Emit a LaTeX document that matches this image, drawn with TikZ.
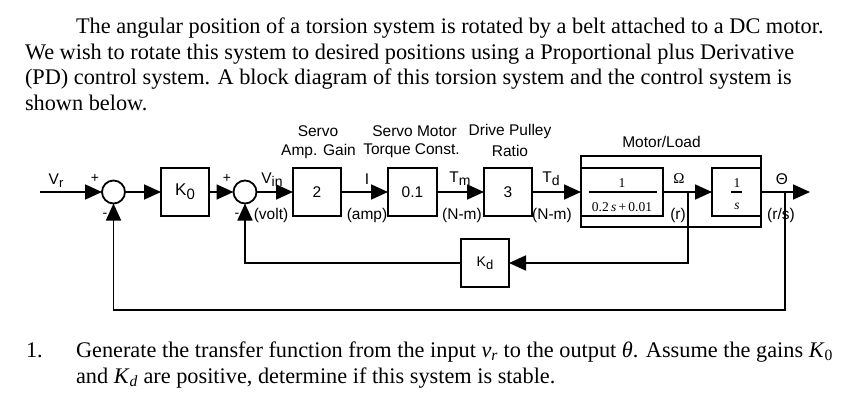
\documentclass[tikz,border=0pt]{standalone}
\usepackage{fontspec}
\setmainfont{Liberation Serif}
\setsansfont{Liberation Sans}
\usetikzlibrary{arrows.meta}
\begin{document}
\begin{tikzpicture}[x=1pt,y=-1pt,
  every node/.style={inner sep=0pt,outer sep=0pt},
  wire/.style={line width=1.8pt},
  arr/.style={wire,-{Triangle[length=17pt,width=15pt]}},
  blk/.style={draw,line width=1.8pt,minimum width=48pt,minimum height=48pt},
  sumj/.style={draw,circle,line width=1.8pt,minimum size=23pt},
  lab/.style={font=\fontsize{15.5}{18}\sffamily},
  sgn/.style={font=\fontsize{14}{16}\sffamily},
  frc/.style={font=\fontsize{13.5}{15}\rmfamily},
  para/.style={font=\fontsize{22.3}{26}\rmfamily,anchor=base west},
]
\useasboundingbox (0,0) rectangle (860,407);
\fill[white] (0,0) rectangle (860,407);

% paragraph
\node[para] (p1) at (76,33) {The angular position of a torsion system is rotated by a belt attached to a DC motor.};
\node[para] (p2) at (25,59) {We wish to rotate this system to desired positions using a Proportional plus Derivative};
\node[para] (p3) at (25,84.5) {(PD) control system. A block diagram of this torsion system and the control system is};
\node[para] (p4) at (25,110) {shown below.};

% blocks
\node[sumj] (s1) at (113.5,192) {};
\node[blk] (k0) at (185,192) {\fontsize{17}{18}\sffamily K\raisebox{-4pt}{\fontsize{15}{16}\selectfont 0}};
\node[sumj] (s2) at (245,192) {};
\node[blk,lab] (b2) at (317,192) {2};
\node[blk,lab,minimum width=49pt] (b01) at (412.5,192) {0.1};
\node[blk,lab] (b3) at (508,192) {3};
\node[draw,line width=1.8pt,minimum width=180pt,minimum height=71pt] (ml) at (671,191.5) {};
\node[blk,minimum width=82pt] (fr) at (622,192) {};
\node[blk,minimum width=49pt] (ig) at (736.5,192) {};
\node[blk] (kd) at (485,263) {\fontsize{14}{16}\sffamily K\raisebox{-3.5pt}{\fontsize{13}{14}\selectfont d}};

% fraction contents
\node[frc] (fn) at (622,183) {1};
\draw[line width=1.6pt] (589,192) coordinate (fa) -- (657,192) coordinate (fb);
\node[frc] (fd) at (622,207) {0.2\,\textit{s}\,+\,0.01};
\node[frc] (in) at (737,183) {1};
\draw[line width=1.4pt] (731,192) coordinate (ia) -- (742,192) coordinate (ib);
\node[frc] (id) at (737,206) {\textit{s}};

% coordinates
\coordinate (vr) at (40,192);
\coordinate (p1c) at (688,192);
\coordinate (p1d) at (688,263);
\coordinate (p2c) at (785,192);
\coordinate (p2d) at (785,310);
\coordinate (out) at (810,192);

% forward path
\draw[arr] (vr) -- (s1.west);
\draw[arr] (s1.east) -- (k0.west);
\draw[arr] (k0.east) -- (s2.west);
\draw[arr] (s2.east) -- (b2.west);
\draw[arr] (b2.east) -- (b01.west);
\draw[arr] (b01.east) -- (b3.west);
\draw[arr] (b3.east) -- (fr.west);
\draw[arr] (fr.east) -- (ig.west);
\draw[arr] (ig.east) -- (out);

% feedback
\draw[arr] (p1c) -- (p1d) -- (kd.east);
\draw[arr] (kd.west) -| (s2.south);
\draw[arr] (p2c) -- (p2d) -| (s1.south);

% labels
\node[lab] (lvr) at (56,181) {V\raisebox{-3pt}{\fontsize{13}{14}\selectfont r}};
\node[sgn] (pl1) at (95,178) {+};
\node[sgn] (mi1) at (105,215) {-};
\node[sgn] (pl2) at (227,178) {+};
\node[sgn] (mi2) at (237,215) {-};
\node[lab] (lvin) at (272,180) {V\raisebox{-3pt}{\fontsize{14}{14}\selectfont in}};
\node[lab] (lvolt) at (271,215) {(volt)};
\node[lab] (li) at (367,179) {I};
\node[lab] (lamp) at (367,215) {(amp)};
\node[lab] (ltm) at (460,179) {T\raisebox{-3pt}{\fontsize{14}{14}\selectfont m}};
\node[lab] (lnm1) at (462,215) {(N-m)};
\node[lab] (ltd) at (551,179) {T\raisebox{-3pt}{\fontsize{14}{14}\selectfont d}};
\node[lab] (lnm2) at (552,215) {(N-m)};
\node[font=\fontsize{15}{16}\rmfamily] (lom) at (679,179) {Ω};
\node[lab] (lr) at (678,215) {(r)};
\node[lab] (lth) at (782,179) {Θ};
\node[lab] (lrs) at (781,215) {(r/s)};

% header labels
\node[lab] (h1a) at (318,131) {Servo};
\node[lab] (h1b) at (318.5,151) {Amp. Gain};
\node[lab] (h2a) at (414.5,131) {Servo Motor};
\node[lab] (h2b) at (411.5,151) {Torque Const.};
\node[lab] (h3a) at (510,131) {Drive Pulley};
\node[lab] (h3b) at (510,151) {Ratio};
\node[lab] (h4) at (661.5,142) {Motor/Load};

% question
\node[para] (q0) at (26,357) {1.};
\node[para] (q1) at (76,357) {Generate the transfer function from the input \textit{v}\textsubscript{\textit{r}} to the output \textit{θ}. Assume the gains \textit{K}\textsubscript{0}};
\node[para] (q2) at (76,383) {and \textit{K}\textsubscript{\textit{d}} are positive, determine if this system is stable.};
\end{tikzpicture}
\end{document}
